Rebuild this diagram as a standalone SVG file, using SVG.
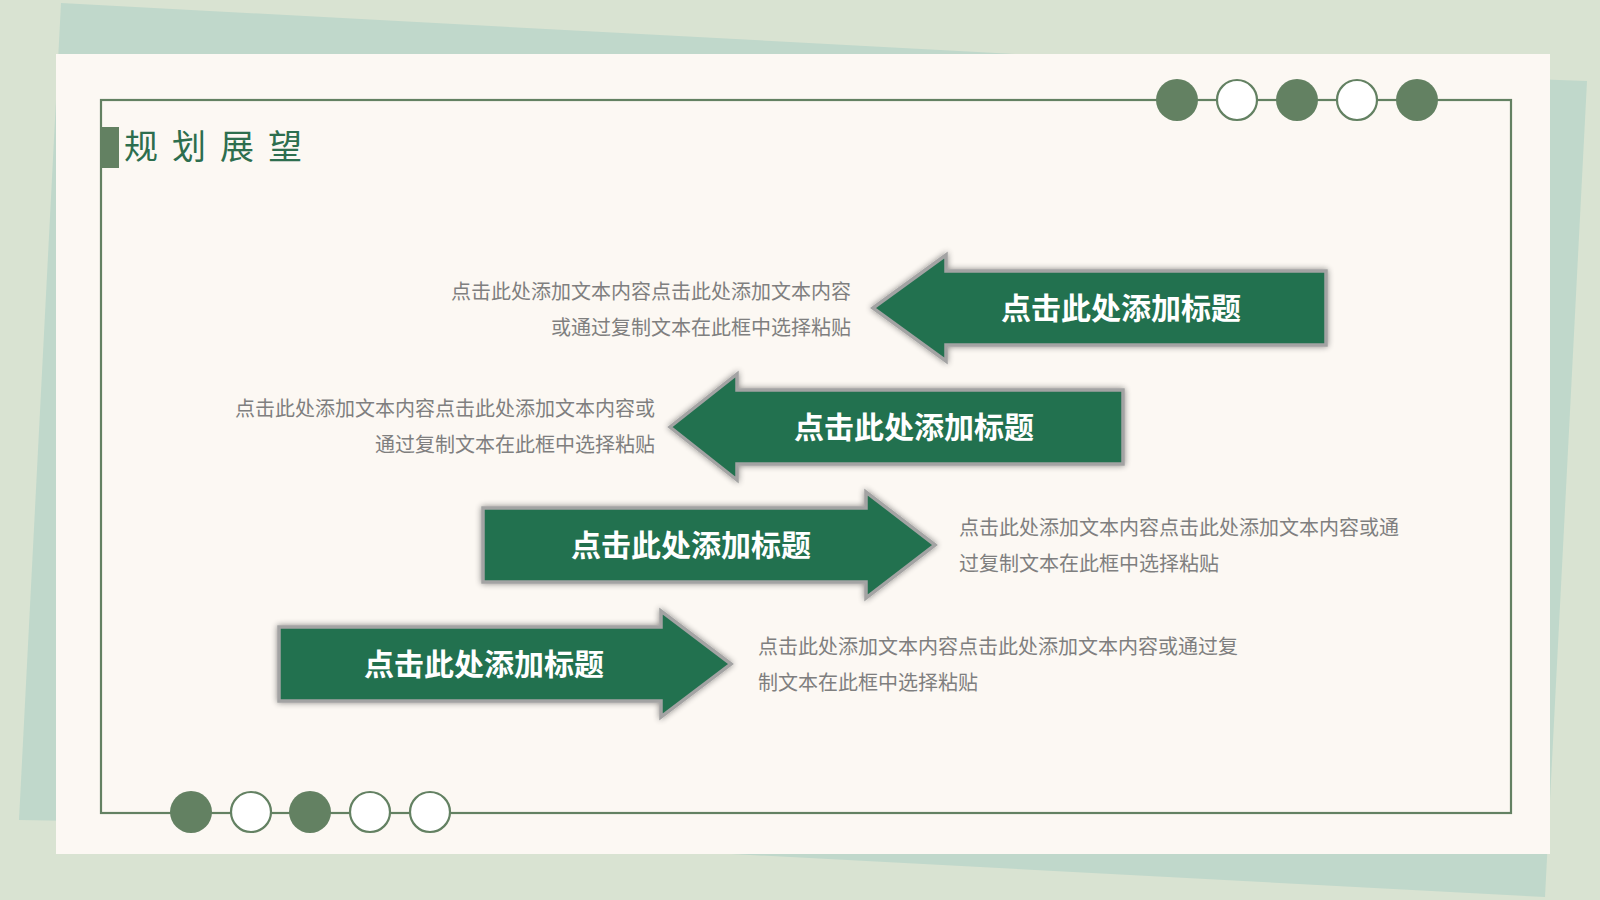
<svg xmlns="http://www.w3.org/2000/svg" width="1600" height="900" viewBox="0 0 1600 900">
  <style>
    .frame { fill: none; stroke: #638162; stroke-width: 2.2; }
    .dotf { fill: #638162; }
    .doto { fill: #ffffff; stroke: #638162; stroke-width: 2.2; }
    .arrow { fill: #237150; stroke: #a3a3a3; stroke-width: 3.5; stroke-linejoin: miter; filter: url(#glow); }
    .atext { font-family: "Noto Sans CJK SC", "Noto Sans", sans-serif; font-weight: 700; font-size: 30px; fill: #ffffff; text-anchor: middle; }
    .desc { font-family: "Noto Sans CJK SC", "Noto Sans", sans-serif; font-size: 20px; fill: #7f7f7f; }
    .title { font-family: "Noto Sans CJK SC", "Noto Sans", sans-serif; font-size: 34px; fill: #2d6e4e; letter-spacing: 14px; }
  </style>
  <defs>
    <filter id="glow" x="-10%" y="-20%" width="120%" height="140%">
      <feGaussianBlur in="SourceAlpha" stdDeviation="3"/>
      <feComponentTransfer><feFuncA type="linear" slope="0.45"/></feComponentTransfer>
      <feMerge><feMergeNode/><feMergeNode in="SourceGraphic"/></feMerge>
    </filter>
  </defs>

  <g id="background">
    <rect x="0" y="0" width="1600" height="900" fill="#d9e3d2"/>
    <polygon points="61,3 1015,54 600,830 19,820" fill="#c0d8cb"/>
    <polygon points="1000,60 1587,81 1545,897 600,847" fill="#c0d8cb"/>
    <rect x="56" y="54" width="1494" height="800" fill="#fcf8f3"/>
  </g>

  <g id="frame">
    <rect class="frame" x="101" y="100" width="1410" height="713"/>
  </g>

  <g id="top-dots">
    <circle class="dotf" cx="1177" cy="100" r="21"/>
    <circle class="doto" cx="1237" cy="100" r="20"/>
    <circle class="dotf" cx="1297" cy="100" r="21"/>
    <circle class="doto" cx="1357" cy="100" r="20"/>
    <circle class="dotf" cx="1417" cy="100" r="21"/>
  </g>

  <g id="bottom-dots">
    <circle class="dotf" cx="191" cy="812" r="21"/>
    <circle class="doto" cx="251" cy="812" r="20"/>
    <circle class="dotf" cx="310" cy="812" r="21"/>
    <circle class="doto" cx="370" cy="812" r="20"/>
    <circle class="doto" cx="430" cy="812" r="20"/>
  </g>

  <g id="title">
    <rect x="101" y="127" width="18" height="41" fill="#638162"/>
    <text class="title" x="124" y="159">规划展望</text>
  </g>

  <g id="connectors"/>

  <g id="node-1">
    <path class="arrow" d="M873,308 L946,255 L946,271 L1326,271 L1326,345 L946,345 L946,361 Z"/>
    <text class="atext" x="1121" y="319">点击此处添加标题</text>
    <text class="desc" x="851" y="299" text-anchor="end">点击此处添加文本内容点击此处添加文本内容</text>
    <text class="desc" x="851" y="335" text-anchor="end">或通过复制文本在此框中选择粘贴</text>
  </g>

  <g id="node-2">
    <path class="arrow" d="M670,427 L737,374 L737,390 L1123,390 L1123,464 L737,464 L737,480 Z"/>
    <text class="atext" x="914" y="438">点击此处添加标题</text>
    <text class="desc" x="655" y="416" text-anchor="end">点击此处添加文本内容点击此处添加文本内容或</text>
    <text class="desc" x="655" y="452" text-anchor="end">通过复制文本在此框中选择粘贴</text>
  </g>

  <g id="node-3">
    <path class="arrow" d="M935,545 L866,492 L866,508 L483,508 L483,582 L866,582 L866,598 Z"/>
    <text class="atext" x="691" y="556">点击此处添加标题</text>
    <text class="desc" x="959" y="535">点击此处添加文本内容点击此处添加文本内容或通</text>
    <text class="desc" x="959" y="571">过复制文本在此框中选择粘贴</text>
  </g>

  <g id="node-4">
    <path class="arrow" d="M731,664 L661,611 L661,627 L279,627 L279,701 L661,701 L661,717 Z"/>
    <text class="atext" x="484" y="675">点击此处添加标题</text>
    <text class="desc" x="758" y="654">点击此处添加文本内容点击此处添加文本内容或通过复</text>
    <text class="desc" x="758" y="690">制文本在此框中选择粘贴</text>
  </g>
</svg>
